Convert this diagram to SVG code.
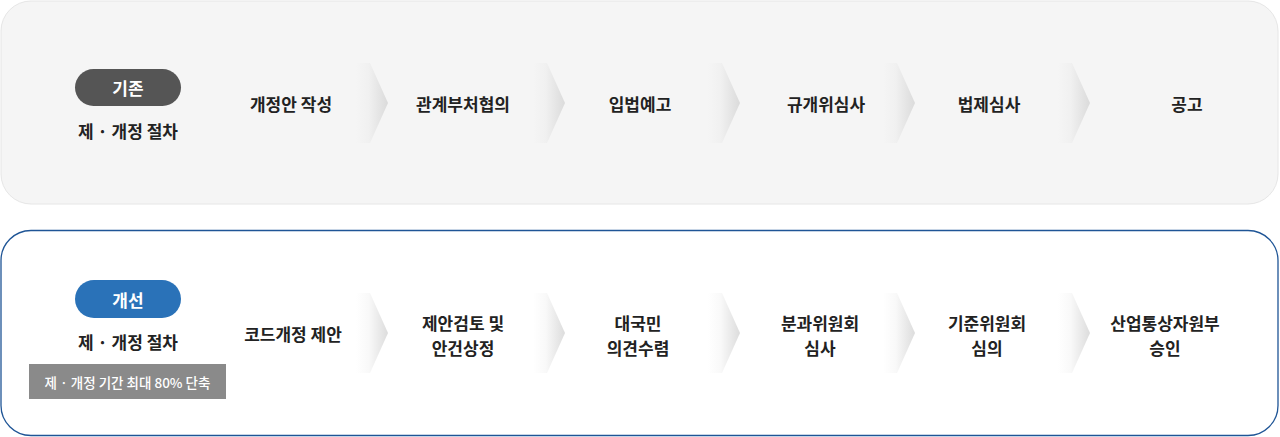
<svg xmlns="http://www.w3.org/2000/svg" width="1280" height="437" viewBox="0 0 1280 437">
<defs>
<linearGradient id="chev" x1="0" y1="0" x2="1" y2="0">
<stop offset="0" stop-color="#d6d6d6" stop-opacity="0"/>
<stop offset="0.4" stop-color="#d6d6d6" stop-opacity="0.15"/>
<stop offset="1" stop-color="#d6d6d6" stop-opacity="0.85"/>
</linearGradient>
<style>
text{font-family:"Noto Sans CJK KR","Noto Sans",sans-serif;text-anchor:middle;dominant-baseline:central}
.t{font-size:17px;font-weight:700;fill:#222}
.pill{font-size:17px;font-weight:700;fill:#fff}
.note{font-size:13.5px;font-weight:500;fill:#fff}
</style>
<polygon id="arrowShape" points="-14,-40 0,-40 18,0 0,40 -14,40" fill="url(#chev)"/>
</defs>
<rect x="1" y="1" width="1277" height="203" rx="30" fill="#f5f5f5" stroke="#e6e6e6"/>
<rect x="1" y="230.5" width="1277" height="205" rx="30" fill="#fff" stroke="#1f5596" stroke-width="1.3"/>
<g id="connectors">
<use href="#arrowShape" x="370" y="103"/>
<use href="#arrowShape" x="547" y="103"/>
<use href="#arrowShape" x="722" y="103"/>
<use href="#arrowShape" x="897" y="103"/>
<use href="#arrowShape" x="1072" y="103"/>
<use href="#arrowShape" x="370" y="333"/>
<use href="#arrowShape" x="547" y="333"/>
<use href="#arrowShape" x="722" y="333"/>
<use href="#arrowShape" x="897" y="333"/>
<use href="#arrowShape" x="1072" y="333"/>
</g>
<g id="label-old">
<rect x="75" y="69" width="106" height="37" rx="18.5" fill="#555"/>
<text class="pill" x="128" y="87.5">기존</text>
<text class="t" x="128" y="130">제 · 개정 절차</text>
</g>
<g id="o1"><text class="t" x="291" y="103">개정안 작성</text></g>
<g id="o2"><text class="t" x="463" y="103">관계부처협의</text></g>
<g id="o3"><text class="t" x="640" y="103">입법예고</text></g>
<g id="o4"><text class="t" x="826" y="103">규개위심사</text></g>
<g id="o5"><text class="t" x="989" y="103">법제심사</text></g>
<g id="o6"><text class="t" x="1187" y="103">공고</text></g>
<g id="label-new">
<rect x="75" y="280" width="106" height="38" rx="19" fill="#2a72b8"/>
<text class="pill" x="128" y="299">개선</text>
<text class="t" x="128" y="341">제 · 개정 절차</text>
<rect x="29" y="364" width="197" height="35" fill="#8a8a8a"/>
<text class="note" x="127.5" y="381.5">제 · 개정 기간 최대 80% 단축</text>
</g>
<g id="n1"><text class="t" x="293" y="333">코드개정 제안</text></g>
<g id="n2"><text class="t" x="463" y="322">제안검토 및</text><text class="t" x="463" y="347">안건상정</text></g>
<g id="n3"><text class="t" x="638" y="322">대국민</text><text class="t" x="638" y="347">의견수렴</text></g>
<g id="n4"><text class="t" x="820" y="322">분과위원회</text><text class="t" x="820" y="347">심사</text></g>
<g id="n5"><text class="t" x="987" y="322">기준위원회</text><text class="t" x="987" y="347">심의</text></g>
<g id="n6"><text class="t" x="1165" y="322">산업통상자원부</text><text class="t" x="1165" y="347">승인</text></g>
</svg>
